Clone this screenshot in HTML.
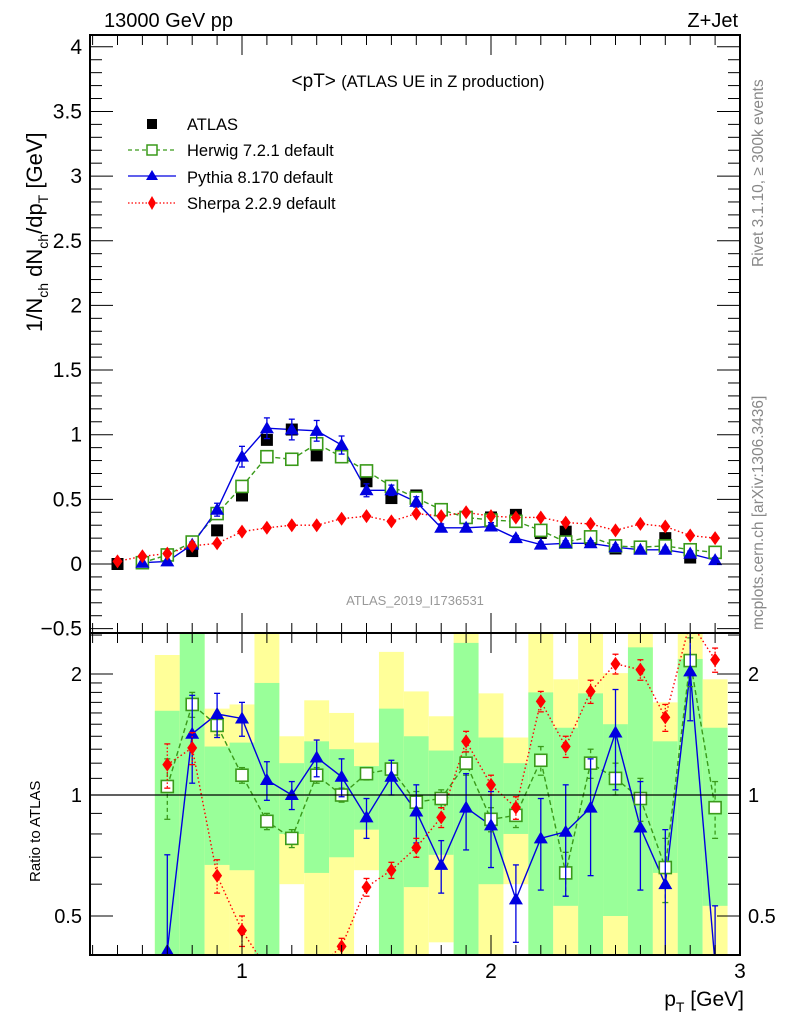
<!DOCTYPE html>
<html><head><meta charset="utf-8"><style>
html,body{margin:0;padding:0;background:#fff;width:786px;height:1024px;overflow:hidden;}
svg{display:block;font-family:"Liberation Sans",sans-serif;}
</style></head><body>
<svg id="chart" width="786" height="1024" viewBox="0 0 786 1024" xmlns="http://www.w3.org/2000/svg">
<defs>
<clipPath id="cpMain"><rect x="90" y="35" width="650" height="598"/></clipPath>
<clipPath id="cpRat"><rect x="90" y="633" width="650" height="322"/></clipPath>
</defs>
<g id="bands" clip-path="url(#cpRat)"></g>
<g id="marks"></g>
<g id="axes"></g>
<text x="104" y="27" font-size="20">13000 GeV pp</text>
<text x="738" y="27" font-size="20" text-anchor="end">Z+Jet</text>
<text x="418" y="87" font-size="19" text-anchor="middle">&lt;pT&gt; <tspan font-size="16.5">(ATLAS UE in Z production)</tspan></text>
<text x="415" y="605" font-size="13" fill="#999" text-anchor="middle">ATLAS_2019_I1736531</text>
<text transform="translate(763,267) rotate(-90)" font-size="15.5" fill="#888">Rivet 3.1.10, ≥ 300k events</text>
<text transform="translate(763,630) rotate(-90)" font-size="15.5" fill="#888">mcplots.cern.ch [arXiv:1306.3436]</text>
<text transform="translate(42,332) rotate(-90)" font-size="22">1/N<tspan font-size="14" dy="6">ch</tspan><tspan dy="-6"> dN</tspan><tspan font-size="14" dy="6">ch</tspan><tspan dy="-6">/dp</tspan><tspan font-size="14" dy="6">T</tspan><tspan dy="-6"> [GeV]</tspan></text>
<text transform="translate(40,882) rotate(-90)" font-size="15">Ratio to ATLAS</text>
<text x="744" y="1006" font-size="21" text-anchor="end">p<tspan font-size="14" dy="6">T</tspan><tspan dy="-6"> [GeV]</tspan></text>
<g id="legend">
<g><rect x="147" y="119" width="10" height="10" fill="#000"/><text x="187" y="130" font-size="16.5">ATLAS</text></g>
<g><line x1="128" y1="150" x2="176" y2="150" stroke="#3a9a1a" stroke-width="1.3" stroke-dasharray="4,3"/><rect x="147" y="145" width="10" height="10" fill="#fff" stroke="#3a9a1a" stroke-width="1.5"/><text x="187" y="156" font-size="16.5">Herwig 7.2.1 default</text></g>
<g><line x1="128" y1="176" x2="176" y2="176" stroke="#0000e0" stroke-width="1.3"/><polygon points="152,170 158,180 146,180" fill="#0000e0"/><text x="187" y="183" font-size="16.5">Pythia 8.170 default</text></g>
<g><line x1="128" y1="203" x2="176" y2="203" stroke="#f00" stroke-width="1.3" stroke-dasharray="1.5,2"/><polygon points="152,196 156,203 152,210 148,203" fill="#f00"/><text x="187" y="209" font-size="16.5">Sherpa 2.2.9 default</text></g>
</g>
</svg>
<script>
const xs=[0.5,0.6,0.7,0.8,0.9,1.0,1.1,1.2,1.3,1.4,1.5,1.6,1.7,1.8,1.9,2.0,2.1,2.2,2.3,2.4,2.5,2.6,2.7,2.8,2.9];
const atlas=[0,0.01,0.07,0.1,0.26,0.53,0.96,1.04,0.84,0.83,0.64,0.51,0.53,0.42,0.36,0.36,0.38,0.24,0.25,0.19,0.12,0.13,0.2,0.05,0.09];
const herwig=[null,0.01,0.07,0.17,0.39,0.6,0.83,0.81,0.93,0.83,0.72,0.6,0.51,0.42,0.36,0.34,0.33,0.26,0.17,0.21,0.14,0.13,0.14,0.11,0.09];
const pythia=[null,0.01,0.02,0.15,0.42,0.83,1.05,1.04,1.03,0.92,0.57,0.57,0.48,0.28,0.28,0.29,0.2,0.15,0.16,0.16,0.13,0.11,0.11,0.08,0.03];
const pythiaErr=[0,0.01,0.01,0.02,0.05,0.08,0.08,0.08,0.08,0.07,0.05,0.04,0.04,0.03,0.03,0.03,0.02,0.02,0.02,0.02,0.02,0.02,0.02,0.02,0.02];
const sherpa=[0.02,0.06,0.08,0.14,0.16,0.25,0.28,0.3,0.3,0.35,0.37,0.33,0.39,0.37,0.4,0.37,0.36,0.36,0.32,0.31,0.26,0.31,0.29,0.22,0.2];
const rx=[0.7,0.8,0.9,1.0,1.1,1.2,1.3,1.4,1.5,1.6,1.7,1.8,1.9,2.0,2.1,2.2,2.3,2.4,2.5,2.6,2.7,2.8,2.9];
const rHerwig=[1.05,1.68,1.49,1.12,0.86,0.78,1.12,1.0,1.13,1.16,0.96,0.98,1.2,0.87,0.89,1.22,0.64,1.2,1.1,0.98,0.66,2.16,0.93];
const rHerwigErr=[0.18,0.12,0.08,0.05,0.04,0.04,0.05,0.04,0.04,0.04,0.06,0.05,0.08,0.06,0.06,0.1,0.08,0.1,0.1,0.12,0.12,0.3,0.15];
const rPythia=[0.41,1.42,1.59,1.55,1.09,1.0,1.24,1.11,0.88,1.11,0.91,0.67,0.93,0.84,0.55,0.78,0.81,0.93,1.43,0.83,0.6,2.03,0.38];
const rPythiaErr=[0.3,0.35,0.2,0.15,0.12,0.08,0.13,0.12,0.1,0.11,0.15,0.1,0.2,0.18,0.12,0.2,0.25,0.3,0.4,0.25,0.22,0.5,0.15];
const rSherpa=[1.19,1.31,0.63,0.46,0.3,0.25,0.3,0.42,0.59,0.65,0.74,0.88,1.36,1.06,0.93,1.71,1.32,1.81,2.12,2.05,1.56,3.0,2.17];
const rSherpaErr=[0.15,0.12,0.06,0.04,0.03,0.03,0.03,0.02,0.03,0.03,0.04,0.05,0.08,0.06,0.06,0.1,0.08,0.12,0.12,0.12,0.12,0.3,0.15];
const band1Lo=[0.3,0.3,0.67,0.65,0.3,0.8,0.64,0.7,0.82,0.3,0.59,0.71,0.3,0.6,0.8,0.3,0.53,0.3,0.5,0.3,0.64,0.3,0.53];
const band1Hi=[1.62,3,1.32,1.35,1.9,1.2,1.36,1.3,1.18,1.64,1.4,1.29,2.39,1.39,1.2,1.8,1.47,1.79,1.5,2.33,1.36,2.18,1.47];
const band2Lo=[0.3,0.3,0.3,0.3,0.3,0.6,0.3,0.3,0.65,0.3,0.3,0.43,0.3,0.3,0.6,0.3,0.3,0.3,0.3,0.3,0.3,0.3,0.3];
const band2Hi=[2.23,3,1.64,1.68,3,1.4,1.72,1.6,1.35,2.27,1.81,1.57,3,1.79,1.39,3,1.94,3,2.01,3,1.7,3,1.94];
const yTicks=[-0.5,0,0.5,1,1.5,2,2.5,3,3.5,4];
const xTicks=[1,2,3];
const rTicks=[0.5,1,2];

const NS='http://www.w3.org/2000/svg';
const X=v=>242+(v-1)*249;
const Y=v=>564-129.3*v;
const R=v=>795-121*Math.log2(Math.min(2.7,Math.max(0.37,v)));
function el(tag,attrs,parent){const e=document.createElementNS(NS,tag);for(const k in attrs)e.setAttribute(k,attrs[k]);parent.appendChild(e);return e;}
const bands=document.getElementById('bands'),marks=document.getElementById('marks'),axes=document.getElementById('axes');
const gMain=el('g',{'clip-path':'url(#cpMain)'},marks);
const gRat=el('g',{'clip-path':'url(#cpRat)'},marks);
const GREEN='#3a9a1a',BLUE='#0000e0',RED='#f00';

rx.forEach((v,i)=>{
  const x0=X(v-0.05),w=X(v+0.05)-x0;
  const y=el('rect',{x:x0,y:R(band2Hi[i]),width:w,height:R(band2Lo[i])-R(band2Hi[i]),fill:'#ffff99'},bands);
  
  
  const g=el('rect',{x:x0,y:R(band1Hi[i]),width:w,height:R(band1Lo[i])-R(band1Hi[i]),fill:'#99ff99'},bands);
  
  
});
const l1=el('line',{x1:90,x2:740,y1:R(1),y2:R(1),stroke:'#000','stroke-width':1.2},marks);



function poly(g,xv,yv,fy,color,dash,name){
  const pts=[];xv.forEach((v,i)=>{if(yv[i]!=null)pts.push(X(v)+','+fy(yv[i]));});
  const p=el('polyline',{points:pts.join(' '),fill:'none',stroke:color,'stroke-width':1.4,'stroke-dasharray':dash},g);
  
  
}
function err(g,x,y1,y2,color,dash){
  el('line',{x1:x,x2:x,y1:y1,y2:y2,stroke:color,'stroke-width':1.3,'stroke-dasharray':dash},g);
  el('line',{x1:x-3,x2:x+3,y1:y1,y2:y1,stroke:color,'stroke-width':1.3},g);
  el('line',{x1:x-3,x2:x+3,y1:y2,y2:y2,stroke:color,'stroke-width':1.3},g);
}
function sq(g,x,y,name){const r=el('rect',{x:x-6,y:y-6,width:12,height:12,fill:'#fff',stroke:GREEN,'stroke-width':1.6},g);}
function tri(g,x,y,name){const p=el('polygon',{points:`${x},${y-7} ${x+7},${y+5} ${x-7},${y+5}`,fill:BLUE},g);}
function dia(g,x,y,name){const p=el('polygon',{points:`${x},${y-7} ${x+5},${y} ${x},${y+7} ${x-5},${y}`,fill:RED},g);}

poly(gMain,xs,herwig,Y,GREEN,'5,3','herwig-line');
poly(gMain,xs,pythia,Y,BLUE,'','pythia-line');
poly(gMain,xs,sherpa,Y,RED,'1.5,2.5','sherpa-line');
xs.forEach((v,i)=>{
  const x=X(v);
  const a=el('rect',{x:x-6,y:Y(atlas[i])-6,width:12,height:12,fill:'#000'},gMain);
  
  
  if(herwig[i]!=null)sq(gMain,x,Y(herwig[i]),'herwig-point');
  if(pythia[i]!=null){err(gMain,x,Y(pythia[i]+pythiaErr[i]),Y(pythia[i]-pythiaErr[i]),BLUE,'');tri(gMain,x,Y(pythia[i]),'pythia-point');}
  dia(gMain,x,Y(sherpa[i]),'sherpa-point');
});
poly(gRat,rx,rHerwig,R,GREEN,'5,3','herwig-ratio-line');
poly(gRat,rx,rPythia,R,BLUE,'','pythia-ratio-line');
poly(gRat,rx,rSherpa,R,RED,'1.5,2.5','sherpa-ratio-line');
rx.forEach((v,i)=>{
  const x=X(v);
  err(gRat,x,R(rHerwig[i]+rHerwigErr[i]),R(rHerwig[i]-rHerwigErr[i]),GREEN,'4,3');
  sq(gRat,x,R(rHerwig[i]),'herwig-ratio-point');
  err(gRat,x,R(rPythia[i]+rPythiaErr[i]),R(rPythia[i]-rPythiaErr[i]),BLUE,'');
  tri(gRat,x,R(rPythia[i]),'pythia-ratio-point');
  err(gRat,x,R(rSherpa[i]+rSherpaErr[i]),R(rSherpa[i]-rSherpaErr[i]),RED,'1.5,2');
  dia(gRat,x,R(rSherpa[i]),'sherpa-ratio-point');
});

[[35,633],[633,955]].forEach(([t,b],k)=>{
  const f=el('rect',{x:90,y:t,width:650,height:b-t,fill:'none',stroke:'#000','stroke-width':2},axes);
  
  
  for(let v=0.4;v<=3.0001;v+=0.1){
    const x=X(v);const maj=xTicks.some(t2=>Math.abs(t2-v)<1e-6);const L=maj?20:10;
    el('line',{x1:x,x2:x,y1:t,y2:t+L,stroke:'#000','stroke-width':1},axes);
    el('line',{x1:x,x2:x,y1:b,y2:b-L,stroke:'#000','stroke-width':1},axes);
  }
});
for(let v=-0.5;v<=4.1;v+=0.1){
  const y=Y(v);if(y<35||y>633)continue;
  const maj=yTicks.some(t=>Math.abs(t-v)<1e-6);const L=maj?23:12;
  el('line',{x1:90,x2:90+L,y1:y,y2:y,stroke:'#000','stroke-width':1},axes);
  el('line',{x1:740,x2:740-L,y1:y,y2:y,stroke:'#000','stroke-width':1},axes);
}
yTicks.forEach(v=>{
  const t=el('text',{x:82,y:Y(v)+7,'font-size':21,'text-anchor':'end'},axes);
  t.textContent=(v<0?'\u22120.5':String(v));
  
  
});
[0.4,0.5,0.6,0.7,0.8,0.9,1,1.1,1.2,1.3,1.4,1.5,1.6,1.7,1.8,1.9,2,2.5].forEach(v=>{
  const y=R(v);if(y<633||y>955)return;
  const maj=rTicks.includes(v);const L=maj?23:12;
  el('line',{x1:90,x2:90+L,y1:y,y2:y,stroke:'#000','stroke-width':1},axes);
  el('line',{x1:740,x2:740-L,y1:y,y2:y,stroke:'#000','stroke-width':1},axes);
});
rTicks.forEach(v=>{
  const t=el('text',{x:82,y:R(v)+7,'font-size':20,'text-anchor':'end'},axes);
  t.textContent=String(v);
  
  
  const t2=el('text',{x:748,y:R(v)+7,'font-size':20},axes);
  t2.textContent=String(v);
  
  
});
xTicks.forEach(v=>{
  const t=el('text',{x:X(v),y:978,'font-size':21,'text-anchor':'middle'},axes);
  t.textContent=String(v);
  
  
});
</script>
</body></html>
